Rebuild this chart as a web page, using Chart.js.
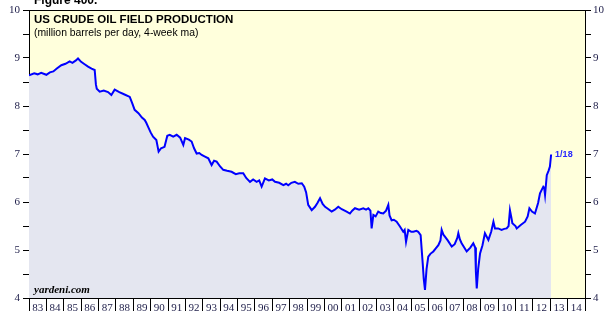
<!DOCTYPE html>
<html>
<head>
<meta charset="utf-8">
<script src="https://cdn.jsdelivr.net/npm/chart.js@4.4.0/dist/chart.umd.min.js"></script>
<style>
  html, body { margin: 0; padding: 0; background: #fff; }
  #wrap { width: 614px; height: 323px; }
</style>
</head>
<body>
<div id="wrap"><canvas id="oilChart" width="614" height="323"></canvas></div>
<script>
// weekly field production, 4-week average (decimal years)
var dates = [
  1983.0, 1983.3, 1983.5, 1983.7, 1984.0, 1984.2, 1984.4, 1984.6, 1984.86, 1985.1,
  1985.34, 1985.5, 1985.7, 1985.82, 1986.0, 1986.2, 1986.4, 1986.6, 1986.78, 1986.85,
  1986.9, 1987.07, 1987.3, 1987.55, 1987.74, 1987.93, 1988.2, 1988.5, 1988.8, 1988.95,
  1989.08, 1989.3, 1989.5, 1989.66, 1989.75, 1989.85, 1990.0, 1990.14, 1990.33, 1990.46,
  1990.6, 1990.8, 1990.96, 1991.1, 1991.3, 1991.5, 1991.7, 1991.88, 1991.98, 1992.2,
  1992.36, 1992.5, 1992.65, 1992.8, 1992.94, 1993.1, 1993.32, 1993.51, 1993.65, 1993.8,
  1994.0, 1994.18, 1994.4, 1994.66, 1994.9, 1995.1, 1995.33, 1995.5, 1995.72, 1995.9,
  1996.1, 1996.25, 1996.39, 1996.58, 1996.8, 1997.0, 1997.16, 1997.4, 1997.64, 1997.8,
  1997.92, 1998.1, 1998.3, 1998.5, 1998.7, 1998.84, 1998.95, 1999.07, 1999.27, 1999.46,
  1999.6, 1999.75, 1999.9, 2000.04, 2000.2, 2000.42, 2000.6, 2000.8, 2001.0, 2001.28,
  2001.47, 2001.6, 2001.76, 2002.0, 2002.24, 2002.4, 2002.53, 2002.65, 2002.72, 2002.82,
  2002.95, 2003.1, 2003.25, 2003.39, 2003.55, 2003.68, 2003.75, 2003.87, 2004.0, 2004.16,
  2004.35, 2004.54, 2004.62, 2004.7, 2004.83, 2005.0, 2005.12, 2005.3, 2005.4, 2005.54,
  2005.66, 2005.72, 2005.79, 2005.88, 2005.98, 2006.1, 2006.27, 2006.4, 2006.56, 2006.68,
  2006.75, 2006.85, 2006.94, 2007.1, 2007.33, 2007.5, 2007.65, 2007.71, 2007.8, 2007.9,
  2008.05, 2008.19, 2008.4, 2008.57, 2008.68, 2008.72, 2008.77, 2008.85, 2008.96, 2009.1,
  2009.24, 2009.44, 2009.6, 2009.73, 2009.82, 2010.0, 2010.2, 2010.35, 2010.49, 2010.6,
  2010.68, 2010.75, 2010.82, 2011.0, 2011.07, 2011.3, 2011.55, 2011.7, 2011.8, 2011.95,
  2012.12, 2012.3, 2012.41, 2012.6, 2012.65, 2012.7, 2012.8, 2012.9, 2012.98, 2013.05
];
var production = [
  8.64, 8.68, 8.66, 8.69, 8.65, 8.70, 8.72, 8.78, 8.85, 8.88,
  8.93, 8.90, 8.95, 8.99, 8.92, 8.87, 8.82, 8.78, 8.75, 8.45,
  8.36, 8.30, 8.32, 8.29, 8.23, 8.34, 8.29, 8.24, 8.19, 8.05,
  7.92, 7.85, 7.76, 7.71, 7.65, 7.57, 7.45, 7.36, 7.29, 7.05,
  7.12, 7.15, 7.38, 7.40, 7.36, 7.40, 7.34, 7.19, 7.33, 7.30,
  7.26, 7.12, 7.01, 7.02, 6.98, 6.95, 6.91, 6.77, 6.86, 6.84,
  6.74, 6.67, 6.65, 6.63, 6.58, 6.60, 6.60, 6.50, 6.42, 6.47,
  6.42, 6.45, 6.32, 6.49, 6.45, 6.47, 6.42, 6.40, 6.35, 6.38,
  6.35, 6.40, 6.42, 6.38, 6.39, 6.32, 6.20, 5.94, 5.83, 5.90,
  5.98, 6.08, 5.96, 5.90, 5.86, 5.80, 5.84, 5.90, 5.85, 5.80,
  5.76, 5.82, 5.87, 5.84, 5.87, 5.84, 5.87, 5.82, 5.45, 5.73,
  5.70, 5.80, 5.77, 5.76, 5.82, 5.94, 5.72, 5.62, 5.63, 5.59,
  5.49, 5.38, 5.42, 5.17, 5.42, 5.38, 5.38, 5.40, 5.38, 5.31,
  4.72, 4.40, 4.17, 4.60, 4.86, 4.92, 4.97, 5.03, 5.10, 5.20,
  5.42, 5.32, 5.28, 5.20, 5.07, 5.12, 5.25, 5.35, 5.22, 5.14,
  5.05, 4.97, 5.05, 5.14, 5.05, 4.55, 4.20, 4.60, 4.93, 5.10,
  5.35, 5.21, 5.38, 5.59, 5.45, 5.45, 5.42, 5.44, 5.45, 5.50,
  5.83, 5.70, 5.56, 5.50, 5.45, 5.52, 5.59, 5.70, 5.87, 5.80,
  5.76, 5.98, 6.18, 6.32, 6.30, 6.15, 6.56, 6.65, 6.74, 6.99
];
var yearTicks = [1983, 2015];
var valueTicks = [4, 10];
var lastLabel = '1/18';

var AXIS_FONT = { family: '"Liberation Serif", "Times New Roman", serif', size: 11 };
var AXIS_COLOR = '#1c1c48';

var frameAndText = {
  id: 'frameAndText',
  beforeDraw: function(chart) {
    var ctx = chart.ctx, a = chart.chartArea;
    ctx.save();
    ctx.fillStyle = '#ffffff';
    ctx.fillRect(0, 0, chart.width, chart.height);
    ctx.fillStyle = '#ffffdc';
    ctx.fillRect(a.left, a.top, a.right - a.left, a.bottom - a.top);
    ctx.restore();
  },
  afterDraw: function(chart) {
    var ctx = chart.ctx, a = chart.chartArea;
    ctx.save();
    // top border of the frame
    ctx.strokeStyle = '#000';
    ctx.lineWidth = 1;
    ctx.beginPath();
    ctx.moveTo(a.left, a.top + 0.5);
    ctx.lineTo(a.right, a.top + 0.5);
    ctx.stroke();

    ctx.fillStyle = '#000';
    ctx.textBaseline = 'alphabetic';
    ctx.font = 'bold 12px "Liberation Sans", Arial, sans-serif';
    ctx.fillText('Figure 400.', 34, 4);

    ctx.font = 'bold 11.5px "Liberation Sans", Arial, sans-serif';
    ctx.fillText('US CRUDE OIL FIELD PRODUCTION', 34, 23);
    ctx.font = '10.4px "Liberation Sans", Arial, sans-serif';
    ctx.fillText('(million barrels per day, 4-week ma)', 34, 36);

    ctx.font = 'italic bold 11px "Liberation Serif", "Times New Roman", serif';
    ctx.fillText('yardeni.com', 34, 293);

    // label at the latest reading
    var xs = chart.scales.x, ys = chart.scales.y;
    var n = dates.length - 1;
    ctx.fillStyle = '#2626ff';
    ctx.font = 'bold 9px "Liberation Sans", Arial, sans-serif';
    ctx.textBaseline = 'middle';
    ctx.fillText(lastLabel, xs.getPixelForValue(dates[n]) + 4, ys.getPixelForValue(production[n]));
    ctx.restore();
  }
};

function yAxis(pos) {
  return {
    type: 'linear',
    position: pos,
    min: valueTicks[0],
    max: valueTicks[1],
    afterFit: function(s) { s.width = 29; },
    ticks: {
      stepSize: 0.5,
      autoSkip: false,
      padding: pos === 'left' ? 3 : 2,
      font: AXIS_FONT,
      color: AXIS_COLOR,
      callback: function(v) { return Number.isInteger(v) ? v : ''; }
    },
    grid: { drawOnChartArea: false, tickLength: 6, color: '#000', tickColor: '#000' },
    border: { color: '#000', width: 1 }
  };
}

var points = dates.map(function(d, i) { return { x: d, y: production[i] }; });

new Chart(document.getElementById('oilChart'), {
  type: 'line',
  data: {
    datasets: [{
      data: points,
      borderColor: '#0000ff',
      borderWidth: 2,
      pointRadius: 0,
      tension: 0,
      fill: 'start',
      backgroundColor: '#e4e6f0'
    }]
  },
  options: {
    responsive: false,
    animation: false,
    devicePixelRatio: 1,
    layout: { padding: { top: 10, left: 0, right: 0, bottom: 0 } },
    plugins: { legend: { display: false }, tooltip: { enabled: false } },
    scales: {
      x: {
        type: 'linear',
        position: 'bottom',
        min: yearTicks[0],
        max: yearTicks[1],
        afterFit: function(s) { s.height = 25; },
        ticks: {
          stepSize: 1,
          autoSkip: false,
          maxRotation: 0,
          labelOffset: 8.7,
          padding: -9,
          font: AXIS_FONT,
          color: AXIS_COLOR,
          callback: function(v) {
            return v < yearTicks[1] ? String(v % 100).padStart(2, '0') : '';
          }
        },
        grid: { drawOnChartArea: false, tickLength: 13, color: '#000', tickColor: '#000' },
        border: { color: '#000', width: 1 }
      },
      y: yAxis('left'),
      y2: yAxis('right')
    }
  },
  plugins: [frameAndText]
});
</script>
</body>
</html>
